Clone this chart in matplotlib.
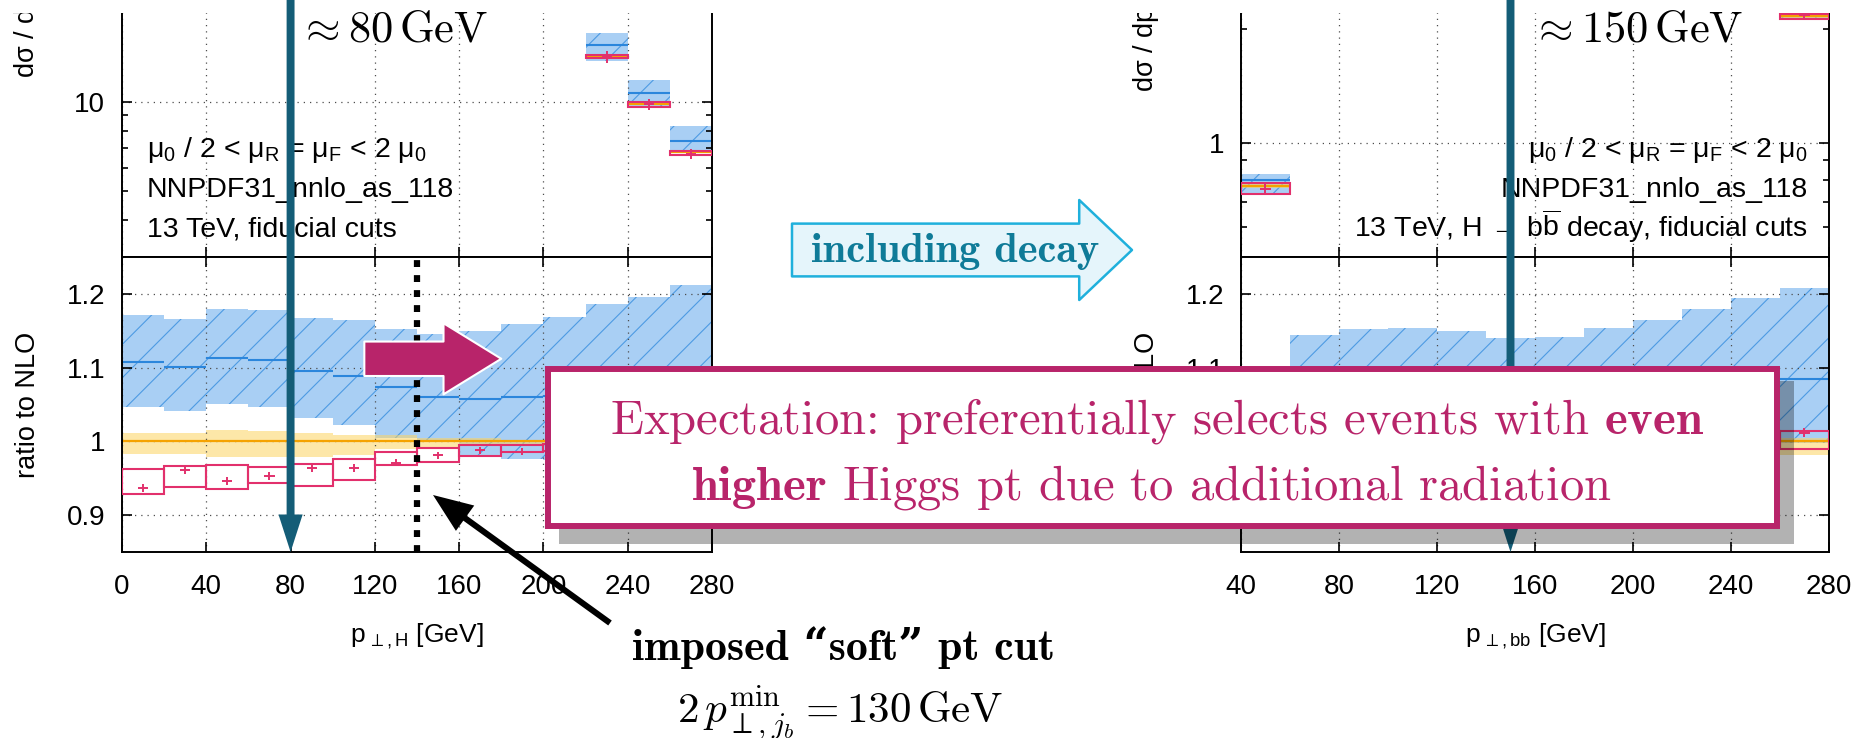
import numpy as np
import matplotlib
matplotlib.use("Agg")
import matplotlib.pyplot as plt
from matplotlib import ticker, transforms
from matplotlib.patches import FancyArrowPatch, Rectangle

# ---------------- data ----------------
# left plot: Higgs pt, 20 GeV bins
edges_H = [0, 20, 40, 60, 80, 100, 120, 140, 160, 180, 200, 220, 240, 260, 280]
# ratio to NLO
nnlo_H    = [1.107, 1.101, 1.113, 1.110, 1.096, 1.088, 1.074, 1.060, 1.057, 1.060, 1.062, 1.066, 1.071, 1.076]
nnlo_lo_H = [1.047, 1.041, 1.051, 1.047, 1.032, 1.022, 1.004, 0.999, 0.979, 0.976, 0.975, 0.975, 0.974, 0.972]
nnlo_hi_H = [1.171, 1.166, 1.180, 1.178, 1.167, 1.164, 1.153, 1.145, 1.149, 1.159, 1.168, 1.186, 1.196, 1.212]
nlo_lo_H  = [0.983, 0.983, 0.979, 0.979, 0.979, 0.981, 0.990, 0.993, 0.994, 0.995, 0.995, 0.995, 0.994, 0.993]
nlo_hi_H  = [1.012, 1.012, 1.015, 1.014, 1.011, 1.009, 1.008, 1.005, 1.004, 1.002, 1.002, 1.002, 1.003, 1.003]
red_H     = [0.937, 0.961, 0.946, 0.953, 0.964, 0.964, 0.971, 0.981, 0.988, 0.986, 0.990, 0.992, 0.993, 0.994]
red_lo_H  = [0.928, 0.938, 0.935, 0.944, 0.940, 0.948, 0.968, 0.972, 0.980, 0.986, 0.987, 0.988, 0.989, 0.990]
red_hi_H  = [0.963, 0.967, 0.968, 0.965, 0.970, 0.976, 0.986, 0.991, 0.995, 0.995, 0.996, 0.997, 0.998, 0.999]
red_err_H = [0.0055, 0.0055, 0.0055, 0.0055, 0.0055, 0.0055, 0.005, 0.005, 0.005, 0.005, 0.005, 0.005, 0.005, 0.005]
# dsigma/dpt (upper panel)
nnlo_top_H    = [56, 84, 91, 85, 73, 61, 50, 41, 34, 28.5, 25.0, 15.5, 10.7, 7.4]
nnlo_top_lo_H = [53, 79, 86, 80, 69, 57, 46, 38, 31.5, 26.5, 23.2, 13.7, 9.62, 6.72]
nnlo_top_hi_H = [62, 93, 101, 94, 81, 68, 55, 45, 37.5, 31.5, 27.5, 17.1, 11.85, 8.3]
nlo_top_H     = [51, 76, 82, 77, 67, 56, 46, 38.5, 32, 27, 23.6, 14.3, 9.85, 6.75]
red_top_H     = [48, 73, 78, 74, 65, 54, 45, 38, 31.6, 26.7, 23.5, 14.2, 9.8, 6.67]
red_top_lo_H  = [47, 72, 77, 73, 64, 53, 44.3, 37.4, 31.1, 26.3, 23.1, 14.05, 9.62, 6.61]
red_top_hi_H  = [49, 74, 79, 75, 66, 55, 45.7, 38.6, 32.1, 27.1, 23.9, 14.4, 9.95, 6.84]
red_top_err_H = [1.5, 2.0, 2.0, 2.0, 1.8, 1.5, 1.3, 1.1, 1.0, 0.9, 3.6, 0.65, 0.41, 0.27]

# right plot: bb pt, 20 GeV bins
edges_bb = [40, 60, 80, 100, 120, 140, 160, 180, 200, 220, 240, 260, 280]
nnlo_bb    = [1.040, 1.085, 1.090, 1.092, 1.088, 1.082, 1.080, 1.083, 1.088, 1.090, 1.088, 1.084]
nnlo_lo_bb = [0.953, 1.030, 1.040, 1.040, 1.030, 1.020, 1.018, 1.015, 1.010, 1.005, 1.000, 0.998]
nnlo_hi_bb = [1.077, 1.144, 1.153, 1.154, 1.149, 1.140, 1.142, 1.154, 1.165, 1.180, 1.194, 1.208]
nlo_lo_bb  = [0.985, 0.988, 0.990, 0.990, 0.990, 0.990, 0.990, 0.988, 0.986, 0.984, 0.982, 0.981]
nlo_hi_bb  = [1.012, 1.010, 1.008, 1.007, 1.006, 1.005, 1.005, 1.004, 1.004, 1.004, 1.004, 1.004]
red_bb     = [0.980, 0.985, 0.990, 0.995, 1.000, 1.000, 1.005, 1.005, 1.008, 1.010, 1.010, 1.012]
red_lo_bb  = [0.960, 0.975, 0.982, 0.986, 0.990, 0.990, 0.994, 0.994, 0.996, 0.996, 0.994, 0.990]
red_hi_bb  = [0.995, 0.995, 0.998, 1.002, 1.006, 1.008, 1.012, 1.013, 1.015, 1.015, 1.014, 1.0135]
red_err_bb = [0.006, 0.006, 0.006, 0.006, 0.006, 0.006, 0.006, 0.006, 0.006, 0.006, 0.006, 0.006]
nnlo_top_bb    = [0.80, 9.5, 8.0, 6.6, 5.4, 4.5, 3.9, 3.4, 3.1, 2.9, 2.75, 2.34]
nnlo_top_lo_bb = [0.734, 8.9, 7.5, 6.1, 5.0, 4.15, 3.6, 3.1, 2.8, 2.65, 2.5, 2.13]
nnlo_top_hi_bb = [0.829, 10.5, 8.9, 7.3, 5.9, 4.9, 4.3, 3.75, 3.45, 3.25, 3.1, 2.6]
nlo_top_bb     = [0.77, 9.0, 7.6, 6.2, 5.05, 4.2, 3.6, 3.15, 2.85, 2.68, 2.55, 2.16]
red_top_bb     = [0.755, 8.8, 7.5, 6.1, 5.0, 4.15, 3.55, 3.1, 2.82, 2.66, 2.55, 2.17]
red_top_lo_bb  = [0.734, 8.6, 7.35, 6.0, 4.9, 4.08, 3.5, 3.05, 2.78, 2.62, 2.51, 2.12]
red_top_hi_bb  = [0.783, 9.0, 7.65, 6.2, 5.1, 4.22, 3.6, 3.15, 2.86, 2.70, 2.59, 2.19]
red_top_err_bb = [0.025, 0.3, 0.25, 0.2, 0.15, 0.12, 0.1, 0.09, 0.08, 0.08, 0.07, 0.06]

# markers on the slide
pt_typical_H = 80      # GeV
pt_typical_bb = 150    # GeV
pt_cut = 140           # GeV, dotted line

# ---------------- style ----------------
W, H = 1874, 738
BLUE_FILL = '#a9cff4'
BLUE_HATCH = '#4d9be3'
BLUE_LINE = '#2b86dc'
YELLOW = '#fcd462'
ORANGE = '#f5a200'
RED = '#e2306c'
TEAL = '#145d77'
MAGENTA = '#b8246a'

plt.rcParams.update({
    'font.family': ['Liberation Sans', 'DejaVu Sans'],
    'mathtext.fontset': 'custom',
    'mathtext.rm': 'Liberation Sans',
    'mathtext.it': 'Liberation Sans:italic',
    'mathtext.bf': 'Liberation Sans:bold',
    'hatch.linewidth': 0.8,
    'axes.linewidth': 1.4,
})

fig = plt.figure(figsize=(W / 100, H / 100), dpi=100)


def box(x0, x1, y0, y1):
    # pixel box (from top-left) -> figure rect
    return [x0 / W, 1 - y1 / H, (x1 - x0) / W, (y1 - y0) / H]


def fxy(x, y):
    return x / W, 1 - y / H


axL_t = fig.add_axes(box(122, 712, -195, 257))
axL_r = fig.add_axes(box(122, 712, 257, 552))
axR_t = fig.add_axes(box(1241, 1829, -236, 257))
axR_r = fig.add_axes(box(1241, 1829, 257, 552))


def step(v):
    v = list(v)
    return v + [v[-1]]


def draw(ax, edges, nnlo, nnlo_lo, nnlo_hi, nlo, nlo_lo, nlo_hi, red, red_lo, red_hi, red_err):
    e = np.array(edges, dtype=float)
    mid = (e[:-1] + e[1:]) / 2
    w = np.diff(e)
    ax.fill_between(e, step(nnlo_lo), step(nnlo_hi), step='post', facecolor=BLUE_FILL,
                    edgecolor=BLUE_HATCH, hatch='/', lw=0, zorder=1)
    ax.fill_between(e, step(nlo_lo), step(nlo_hi), step='post', color=YELLOW,
                    alpha=0.55, lw=0, zorder=1.2)
    ax.hlines(nnlo, e[:-1], e[1:], color=BLUE_LINE, lw=1.5, zorder=2.5)
    ax.hlines(nlo, e[:-1], e[1:], color=ORANGE, lw=1.6, zorder=2.4)
    ax.bar(mid, np.subtract(red_hi, red_lo), bottom=red_lo, width=w, fill=False,
           edgecolor=RED, lw=1.5, zorder=3)
    ax.errorbar(mid, red, yerr=red_err, xerr=2.4, fmt='none', ecolor=RED,
                elinewidth=1.4, capsize=0, zorder=3.5)


nlo_H = np.array(nlo_top_H)
draw(axL_t, edges_H, nnlo_top_H, nnlo_top_lo_H, nnlo_top_hi_H, nlo_H,
     nlo_H * np.array(nlo_lo_H), nlo_H * np.array(nlo_hi_H),
     red_top_H, red_top_lo_H, red_top_hi_H, red_top_err_H)
draw(axL_r, edges_H, nnlo_H, nnlo_lo_H, nnlo_hi_H, [1.0] * len(nnlo_H),
     nlo_lo_H, nlo_hi_H, red_H, red_lo_H, red_hi_H, red_err_H)
nlo_bb = np.array(nlo_top_bb)
draw(axR_t, edges_bb, nnlo_top_bb, nnlo_top_lo_bb, nnlo_top_hi_bb, nlo_bb,
     nlo_bb * np.array(nlo_lo_bb), nlo_bb * np.array(nlo_hi_bb),
     red_top_bb, red_top_lo_bb, red_top_hi_bb, red_top_err_bb)
draw(axR_r, edges_bb, nnlo_bb, nnlo_lo_bb, nnlo_hi_bb, [1.0] * len(nnlo_bb),
     nlo_lo_bb, nlo_hi_bb, red_bb, red_lo_bb, red_hi_bb, red_err_bb)

fmt_g = ticker.FuncFormatter(lambda v, _: f'{v:g}')
for ax_t, ax_r, edges, ylim_t in ((axL_t, axL_r, edges_H, (3, 100)),
                                  (axR_t, axR_r, edges_bb, (0.5, 10))):
    for ax in (ax_t, ax_r):
        ax.set_xlim(edges[0], edges[-1])
        ax.xaxis.set_major_locator(ticker.MultipleLocator(40))
        ax.tick_params(which='both', direction='in', top=True, right=True, width=1.2)
        ax.tick_params(which='major', length=7, labelsize=20)
        ax.tick_params(which='minor', length=4.5)
        ax.tick_params(axis='y', pad=12)
        ax.tick_params(axis='x', pad=16)
        ax.grid(True, which='major', ls=(0, (1, 4)), color='0.3', lw=0.9)
    ax_t.set_yscale('log')
    ax_t.set_ylim(*ylim_t)
    ax_t.yaxis.set_major_locator(ticker.LogLocator(base=10))
    ax_t.yaxis.set_minor_locator(ticker.LogLocator(base=10, subs=np.arange(2, 10)))
    ax_t.yaxis.set_major_formatter(fmt_g)
    ax_t.yaxis.set_minor_formatter(ticker.NullFormatter())
    ax_t.tick_params(labelbottom=False)
    ax_r.set_ylim(0.85, 1.25)
    ax_r.yaxis.set_major_locator(ticker.MultipleLocator(0.1))
    ax_r.yaxis.set_major_formatter(fmt_g)
    ax_r.set_ylabel('ratio to NLO', fontsize=19.5)
    ax_r.yaxis.label.set_va('center')
    ax_r.yaxis.set_label_coords(-0.16, 0.5)

axL_t.set_ylabel('dσ / dp$_{\\perp,\\mathrm{H}}$ [fb/GeV]', fontsize=19.5)
axL_t.yaxis.label.set_ha('left')
axL_t.yaxis.label.set_va('center')
axL_t.yaxis.set_label_coords(-0.16, (257 - 78) / (257 + 195))
axR_t.set_ylabel('dσ / dp$_{\\perp,\\mathrm{bb}}$ [fb/GeV]', fontsize=19.5)
axR_t.yaxis.label.set_ha('left')
axR_t.yaxis.label.set_va('center')
axR_t.yaxis.set_label_coords(-0.16, (257 - 92) / (257 + 236))

for ax, lab in ((axL_r, 'p$_{\\,\\perp,\\mathrm{H}}$ [GeV]'), (axR_r, 'p$_{\\,\\perp,\\mathrm{bb}}$ [GeV]')):
    ax.set_xlabel(lab, fontsize=19)
    ax.xaxis.label.set_va('center')
    ax.xaxis.set_label_coords(0.5, -(636 - 552) / 295)

# info text in the upper panels
info = ['μ$_0$ / 2 < μ$_\\mathrm{R}$ = μ$_\\mathrm{F}$ < 2 μ$_0$', 'NNPDF31_nnlo_as_118']
for s, y in zip(info + ['13 TeV, fiducial cuts'], (157, 197, 237)):
    axL_t.text(*fxy(147, y), s, transform=fig.transFigure, fontsize=20.5, ha='left', va='baseline')
for s, y in zip(info + ['13 TeV, H → b$\\overline{\\mathrm{b}}$ decay, fiducial cuts'], (157, 197, 237)):
    axR_t.text(*fxy(1808, y), s, transform=fig.transFigure, fontsize=20.5, ha='right', va='baseline')

# soft cut, dotted line
axL_r.axvline(pt_cut, color='black', lw=4.5, ls=(0, (1.1, 1.3)), zorder=4, dash_capstyle='butt')

# white strip: the plot image is cut at the top of the slide
fig.add_artist(Rectangle((0, 1 - 13 / H), 1, 13 / H, transform=fig.transFigure,
                         fc='white', ec='none', zorder=1))

# teal arrows marking the typical pt
for ax_r, xv, dx, lab in ((axL_r, pt_typical_H, 3.5, r'$\approx 80\,\mathrm{GeV}$'),
                          (axR_r, pt_typical_bb, 8.5, r'$\approx 150\,\mathrm{GeV}$')):
    tr = transforms.blended_transform_factory(ax_r.transData, fig.transFigure)
    fig.add_artist(FancyArrowPatch((xv, 1.0), (xv, ax_r.get_position().y0), transform=tr,
                                   arrowstyle='simple,head_length=0.9,head_width=0.58,tail_width=0.19',
                                   mutation_scale=30, fc=TEAL, ec='none', lw=0,
                                   shrinkA=0, shrinkB=0, zorder=5))
    fig.text(xv + dx, 1 - 42 / H, lab, transform=tr, fontsize=32, math_fontfamily='cm',
             ha='left', va='baseline', zorder=6)

# magenta block arrow in the left ratio panel
fig.add_artist(FancyArrowPatch((115, 1.112), (180, 1.112), transform=axL_r.transData,
                               arrowstyle='simple,head_length=1.04,head_width=1.28,tail_width=0.62',
                               mutation_scale=40, fc=MAGENTA, ec='white', lw=1.5,
                               shrinkA=0, shrinkB=0, zorder=4))

# "including decay" arrow
fig.add_artist(FancyArrowPatch(fxy(792, 250), fxy(1132, 250), transform=fig.transFigure,
                               arrowstyle='simple,head_length=0.95,head_width=1.8,tail_width=0.95',
                               mutation_scale=40, fc='#e5f5fb', ec='#1fb0dc', lw=1.8,
                               shrinkA=0, shrinkB=0, zorder=4))
fig.text(*fxy(955, 262), 'including decay', family='cmb10', fontsize=30.5, color='#0f7b98',
         ha='center', va='baseline', zorder=5)

# black arrow to the cut
fig.add_artist(FancyArrowPatch(fxy(610, 623), fxy(433, 495), transform=fig.transFigure,
                               arrowstyle='simple,head_length=0.95,head_width=0.75,tail_width=0.145',
                               mutation_scale=30, fc='black', ec='none', lw=0,
                               shrinkA=0, shrinkB=0, zorder=4))
fig.text(*fxy(844, 660), 'imposed “soft” pt cut', family=['cmb10', 'DejaVu Serif'],
         fontweight='bold', fontsize=31.5, ha='center', va='baseline', zorder=5)
fig.text(*fxy(840, 722), r'$2\,p_{\perp,j_b}^{\mathrm{min}} = 130\,\mathrm{GeV}$',
         math_fontfamily='cm', fontsize=31, ha='center', va='baseline', zorder=5)

# callout box with shadow
fig.add_artist(Rectangle(fxy(559, 544), 1235 / W, 163 / H, transform=fig.transFigure,
                         fc='black', alpha=0.3, lw=0, zorder=6))
fig.add_artist(Rectangle(fxy(548, 526), (1777 - 548) / W, (526 - 369) / H, transform=fig.transFigure,
                         fc='white', ec=MAGENTA, lw=4.3, zorder=7))
fig.text(*fxy(1157, 433), r'Expectation: preferentially selects events with $\mathbf{even}$',
         family='cmr10', math_fontfamily='cm', fontsize=35, color=MAGENTA,
         ha='center', va='baseline', zorder=8)
fig.text(*fxy(1151, 500), r'$\mathbf{higher}$ Higgs pt due to additional radiation',
         family='cmr10', math_fontfamily='cm', fontsize=35, color=MAGENTA,
         ha='center', va='baseline', zorder=8)

fig.savefig('out.png', dpi=100)
